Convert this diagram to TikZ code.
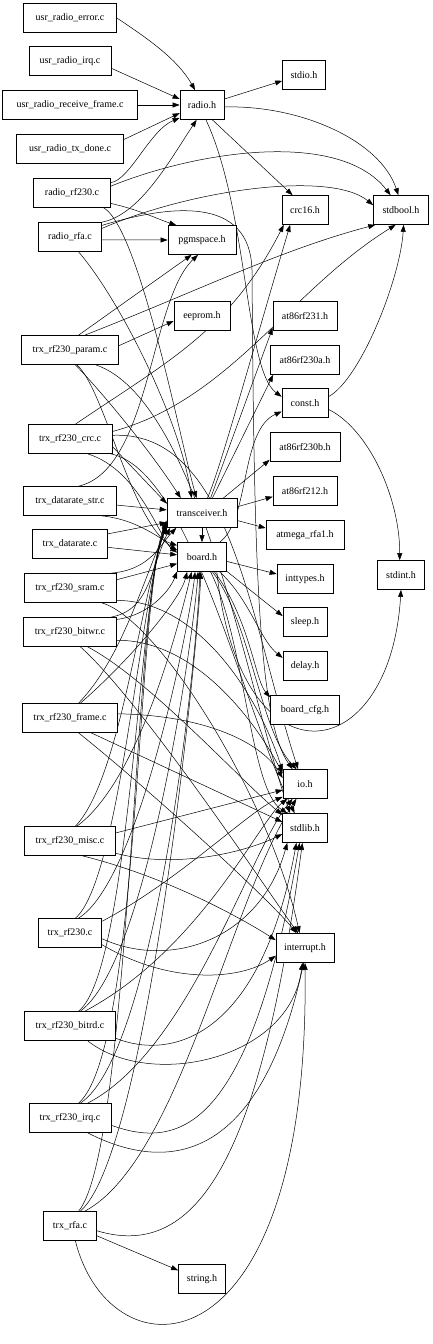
\documentclass[tikz,border=0pt]{standalone}
\usepackage{fontspec}
\setmainfont{Liberation Serif}
\usetikzlibrary{arrows.meta}
\pgfdeclarelayer{edges}
\pgfsetlayers{edges,main}
\begin{document}
\begin{tikzpicture}[x=1pt,y=-1pt,
  box/.style={draw=black,line width=0.7pt,fill=white,inner sep=0pt,minimum height=29pt,font=\fontsize{10}{12}\selectfont},
  e/.style={line width=0.5pt,-{Triangle[length=7pt,width=5pt]}}]
\useasboundingbox (0,0) rectangle (433,1344);
% nodes
\node[box,minimum width=93] (ure) at (70,18) {usr\_radio\_error.c};
\node[box,minimum width=82] (uri) at (70,61) {usr\_radio\_irq.c};
\node[box,minimum width=135] (urr) at (70,105) {usr\_radio\_receive\_frame.c};
\node[box,minimum width=107] (urt) at (70,149) {usr\_radio\_tx\_done.c};
\node[box,minimum width=44] (radio) at (202,105) {radio.h};
\node[box,minimum width=43] (stdio) at (304,75) {stdio.h};
\node[box,minimum width=77] (rrf230) at (72,193) {radio\_rf230.c};
\node[box,minimum width=46] (crc16) at (305,210) {crc16.h};
\node[box,minimum width=55] (stdbool) at (401,210) {stdbool.h};
\node[box,minimum width=63] (rrfa) at (70,237) {radio\_rfa.c};
\node[box,minimum width=68] (pgm) at (202,240) {pgmspace.h};
\node[box,minimum width=56] (eeprom) at (202,316) {eeprom.h};
\node[box,minimum width=64] (at231) at (305,316) {at86rf231.h};
\node[box,minimum width=97] (param) at (70,350) {trx\_rf230\_param.c};
\node[box,minimum width=69] (at230a) at (305,360) {at86rf230a.h};
\node[box,minimum width=46] (const) at (305,403) {const.h};
\node[box,minimum width=84] (crc) at (70,439) {trx\_rf230\_crc.c};
\node[box,minimum width=70] (at230b) at (305,447) {at86rf230b.h};
\node[box,minimum width=64] (at212) at (305,491) {at86rf212.h};
\node[box,minimum width=93] (dstr) at (70,501) {trx\_datarate\_str.c};
\node[box,minimum width=70] (trx) at (202,513) {transceiver.h};
\node[box,minimum width=78] (rfa1) at (305,535) {atmega\_rfa1.h};
\node[box,minimum width=75] (drate) at (70,544) {trx\_datarate.c};
\node[box,minimum width=49] (board) at (202,557) {board.h};
\node[box,minimum width=56] (inttypes) at (305,579) {inttypes.h};
\node[box,minimum width=47] (stdint) at (401,575) {stdint.h};
\node[box,minimum width=92] (sram) at (70,588) {trx\_rf230\_sram.c};
\node[box,minimum width=44] (sleep) at (305,622) {sleep.h};
\node[box,minimum width=93] (bitwr) at (70,632) {trx\_rf230\_bitwr.c};
\node[box,minimum width=44] (delay) at (305,666) {delay.h};
\node[box,minimum width=69] (boardcfg) at (305,710) {board\_cfg.h};
\node[box,minimum width=95] (frame) at (70,718) {trx\_rf230\_frame.c};
\node[box,minimum width=44] (io) at (305,784) {io.h};
\node[box,minimum width=45] (stdlib) at (305,828) {stdlib.h};
\node[box,minimum width=91] (misc) at (70,841) {trx\_rf230\_misc.c};
\node[box,minimum width=63] (rf230) at (70,933) {trx\_rf230.c};
\node[box,minimum width=58] (intr) at (305,948) {interrupt.h};
\node[box,minimum width=91] (bitrd) at (70,1026) {trx\_rf230\_bitrd.c};
\node[box,minimum width=82] (irq) at (70,1118) {trx\_rf230\_irq.c};
\node[box,minimum width=53] (rfa) at (70,1226) {trx\_rfa.c};
\node[box,minimum width=47] (string) at (202,1279) {string.h};
\begin{pgfonlayer}{edges}
% radio.h inputs
\draw[e] (ure.east) .. controls (150,40) and (178,60) .. (radio.115);
\draw[e] (uri.-10) -- (radio.165);
\draw[e] (urr.east) -- (radio.west);
\draw[e] (urt.10) -- (radio.-160);
\draw[e] (rrf230.15) .. controls (130,180) and (150,130) .. (radio.-150);
\draw[e] (rrfa.25) .. controls (140,215) and (170,160) .. (radio.-110);
% radio.h outputs
\draw[e] (radio.15) -- (stdio.-165);
\draw[e] (radio.-5) .. controls (300,105) and (380,140) .. (stdbool.100);
\draw[e] (radio.-55) -- (crc16.130);
\draw[e] (radio.-75) .. controls (248,210) and (245,370) .. (const.165);
% radio_rf230.c
\draw[e] (rrf230.10) .. controls (200,150) and (340,130) .. (stdbool.125);
\draw[e] (rrf230.-15) .. controls (140,210) and (160,220) .. (pgm.150);
\draw[e] (rrf230.-25) .. controls (140,230) and (180,440) .. (trx.110);
% radio_rfa.c
\draw[e] (rrfa.15) .. controls (190,190) and (330,170) .. (stdbool.170);
\draw[e] (rrfa.-5) -- (pgm.west);
\draw[e] (rrfa.-60) .. controls (120,300) and (180,420) .. (trx.125);
\draw[e] (rrfa.20) .. controls (170,205) and (250,195) .. (252,270) .. controls (254,560) and (258,720) .. (io.130);
% trx_rf230_param.c
\draw[e] (param.60) -- (pgm.-125);
\draw[e] (param.45) .. controls (200,290) and (280,250) .. (stdbool.-150);
\draw[e] (param.5) -- (eeprom.-170);
\draw[e] (param.-70) .. controls (100,390) and (150,450) .. (trx.145);
\draw[e] (param.-65) .. controls (105,390) and (130,520) .. (board.165);
\draw[e] (param.-30) .. controls (200,400) and (250,700) .. (stdlib.135);
% trx_rf230_crc.c
\draw[e] (crc.70) .. controls (170,360) and (230,330) .. (crc16.-145);
\draw[e] (crc.10) .. controls (230,400) and (290,290) .. (stdbool.-110);
\draw[e] (crc.-10) -- (trx.165);
\draw[e] (crc.-40) .. controls (140,470) and (160,540) .. (board.170);
\draw[e] (crc.5) .. controls (230,430) and (250,620) .. (io.115);
\draw[e] (crc.-20) .. controls (190,470) and (240,700) .. (stdlib.125);
% trx_datarate_str.c
\draw[e] (dstr.60) .. controls (150,470) and (150,300) .. (pgm.-105);
\draw[e] (dstr.-5) -- (trx.175);
\draw[e] (dstr.-25) .. controls (140,520) and (160,540) .. (board.155);
% trx_datarate.c
\draw[e] (drate.15) -- (trx.-165);
\draw[e] (drate.-5) -- (board.175);
% trx_rf230_sram.c
\draw[e] (sram.20) .. controls (150,570) and (160,545) .. (trx.-150);
\draw[e] (sram.10) -- (board.-165);
\draw[e] (sram.-15) .. controls (200,600) and (260,700) .. (io.150);
\draw[e] (sram.-25) .. controls (160,620) and (270,800) .. (intr.110);
% trx_rf230_bitwr.c
\draw[e] (bitwr.20) .. controls (150,610) and (150,570) .. (trx.-155);
\draw[e] (bitwr.15) .. controls (150,615) and (170,590) .. (board.-150);
\draw[e] (bitwr.-10) .. controls (200,640) and (260,730) .. (io.155);
\draw[e] (bitwr.-40) .. controls (150,680) and (240,780) .. (stdlib.150);
\draw[e] (bitwr.-55) .. controls (140,700) and (260,880) .. (intr.115);
% trx_rf230_frame.c
\draw[e] (frame.60) .. controls (120,660) and (140,590) .. (trx.-158);
\draw[e] (frame.55) .. controls (130,660) and (180,600) .. (board.-135);
\draw[e] (frame.5) .. controls (200,715) and (260,740) .. (io.165);
\draw[e] (frame.-35) -- (stdlib.165);
\draw[e] (frame.-60) .. controls (150,790) and (270,900) .. (intr.120);
% trx_rf230_misc.c
\draw[e] (misc.70) .. controls (120,780) and (140,600) .. (trx.-160);
\draw[e] (misc.65) .. controls (140,780) and (180,620) .. (board.-125);
\draw[e] (misc.10) -- (io.-165);
\draw[e] (misc.-15) .. controls (180,870) and (250,850) .. (stdlib.-165);
\draw[e] (misc.-50) .. controls (180,880) and (260,930) .. (intr.165);
% trx_rf230.c
\draw[e] (rf230.70) .. controls (120,880) and (140,600) .. (trx.-162);
\draw[e] (rf230.60) .. controls (140,880) and (190,620) .. (board.-115);
\draw[e] (rf230.20) .. controls (180,880) and (250,810) .. (io.-150);
\draw[e] (rf230.-10) .. controls (170,970) and (260,940) .. (stdlib.-140);
\draw[e] (rf230.-20) .. controls (170,985) and (240,980) .. (intr.-165);
% trx_rf230_bitrd.c
\draw[e] (bitrd.60) .. controls (130,970) and (138,600) .. (trx.-164);
\draw[e] (bitrd.55) .. controls (150,960) and (195,620) .. (board.-105);
\draw[e] (bitrd.45) .. controls (200,950) and (260,820) .. (io.-140);
\draw[e] (bitrd.-15) .. controls (170,1060) and (260,1040) .. (stdlib.-120);
\draw[e] (bitrd.-40) .. controls (150,1090) and (290,1060) .. (intr.-100);
% trx_rf230_irq.c
\draw[e] (irq.60) .. controls (140,1050) and (136,600) .. (trx.-166);
\draw[e] (irq.55) .. controls (160,1050) and (200,620) .. (board.-100);
\draw[e] (irq.40) .. controls (190,1050) and (250,850) .. (io.-130);
\draw[e] (irq.-10) .. controls (180,1150) and (250,1130) .. (stdlib.-110);
\draw[e] (irq.-40) .. controls (170,1175) and (260,1160) .. (intr.-95);
% trx_rfa.c
\draw[e] (rfa.60) .. controls (130,1150) and (134,600) .. (trx.-168);
\draw[e] (rfa.55) .. controls (150,1150) and (200,620) .. (board.-95);
\draw[e] (rfa.45) .. controls (180,1160) and (230,900) .. (io.-120);
\draw[e] (rfa.-10) .. controls (200,1262) and (262,1150) .. (stdlib.-100);
\draw[e] (rfa.-20) -- (string.160);
\draw[e] (rfa.-70) .. controls (110,1380) and (310,1380) .. (intr.-90);
% transceiver.h
\draw[e] (trx.south) -- (board.north);
\draw[e] (trx.70) .. controls (220,470) and (250,360) .. (crc16.-135);
\draw[e] (trx.60) -- (at231.-160);
\draw[e] (trx.55) -- (at230a.-155);
\draw[e] (trx.35) -- (at230b.-160);
\draw[e] (trx.10) -- (at212.-170);
\draw[e] (trx.-12) -- (rfa1.170);
% board.h
\draw[e] (board.40) .. controls (250,520) and (240,430) .. (const.-160);
\draw[e] (board.-10) -- (inttypes.170);
\draw[e] (board.-30) -- (sleep.165);
\draw[e] (board.-40) .. controls (250,600) and (260,640) .. (delay.160);
\draw[e] (board.-50) .. controls (250,620) and (255,680) .. (boardcfg.160);
\draw[e] (board.-55) .. controls (250,620) and (260,730) .. (io.120);
\draw[e] (board.-60) .. controls (245,640) and (250,790) .. (stdlib.140);
\draw[e] (board.-45) .. controls (240,790) and (390,770) .. (stdint.-90);
% const.h
\draw[e] (const.15) .. controls (360,380) and (400,280) .. (stdbool.-80);
\draw[e] (const.-15) .. controls (370,430) and (400,500) .. (stdint.95);
\end{pgfonlayer}
\end{tikzpicture}
\end{document}
